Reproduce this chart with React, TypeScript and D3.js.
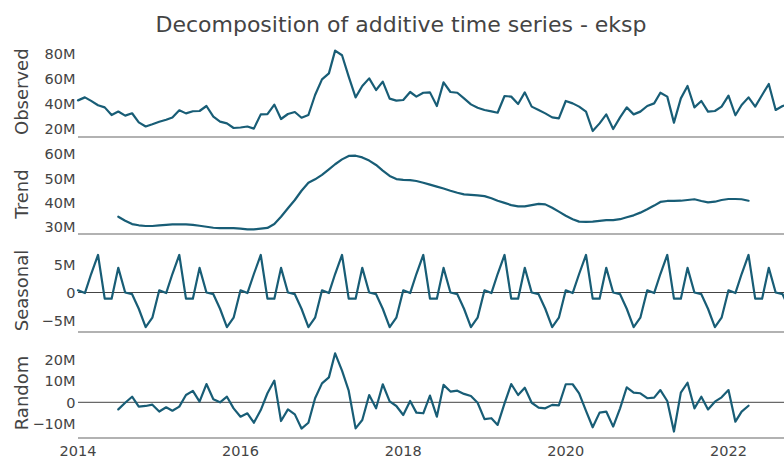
import React from "react";
import * as d3 from "d3";

// Monthly values in millions, Jan 2014 .. Oct 2022
const observed: number[] = [
  42.9, 45.3, 42.5, 39.0, 37.3, 31.2, 34.0, 30.7, 32.6, 25.3, 22.0, 23.8,
  25.8, 27.4, 29.2, 35.0, 32.5, 34.2, 34.4, 38.4, 29.9, 25.9, 24.5, 20.8,
  21.2, 22.0, 20.3, 31.7, 31.9, 39.5, 28.0, 32.0, 33.6, 29.0, 31.2, 47.2,
  59.7, 64.5, 82.7, 79.0, 61.9, 45.3, 54.4, 60.5, 51.2, 57.9, 44.3, 42.7,
  43.2, 49.6, 45.9, 49.0, 49.3, 38.4, 57.3, 49.6, 49.0, 44.5, 39.7, 37.0,
  35.2, 34.1, 33.0, 46.4, 45.9, 40.0, 49.3, 37.9, 35.2, 32.5, 29.3, 28.5,
  42.4, 40.5, 37.9, 33.9, 18.4, 24.5, 31.7, 20.0, 29.3, 37.3, 31.7, 33.9,
  38.4, 40.5, 49.0, 45.9, 25.1, 44.5, 54.4, 37.3, 42.4, 33.9, 34.4, 37.9,
  46.7, 31.0, 39.2, 45.3, 37.9, 47.2, 56.0, 35.2, 38.4, 40.0,
];

const trend: (number | null)[] = [
  null, null, null, null, null, null,
  34.2, 32.6, 31.2, 30.7, 30.4, 30.4,
  30.7, 30.9, 31.1, 31.1, 31.1, 30.9, 30.5, 30.1, 29.7, 29.5, 29.5, 29.5,
  29.3, 29.0, 29.0, 29.3, 29.6, 31.2, 34.2, 37.7, 41.1, 44.9, 48.2, 49.6,
  51.4, 53.7, 55.8, 57.8, 59.2, 59.3, 58.6, 57.3, 55.5, 53.2, 51.0, 49.7,
  49.4, 49.3, 48.9, 48.2, 47.4, 46.6, 45.8, 44.9, 44.1, 43.4, 43.2, 43.0,
  42.7, 41.8, 40.8, 39.9, 39.0, 38.5, 38.5, 39.0, 39.5, 39.3, 37.9, 36.3,
  34.6, 33.2, 32.2, 32.1, 32.2, 32.5, 32.8, 32.8, 33.2, 34.0, 34.8, 35.9,
  37.3, 38.8, 40.3, 40.7, 40.7, 40.8, 41.1, 41.4, 40.7, 40.1, 40.4, 41.1,
  41.5, 41.5, 41.4, 40.8,
  null, null, null, null, null, null,
];

// Seasonal component: one value per calendar month (Jan..Dec)
const seasonalPattern: number[] = [0.4, -0.1, 3.3, 6.7, -1.1, -1.1, 4.4, 0.0, -0.3, -2.9, -6.2, -4.5];

const random: (number | null)[] = [
  null, null, null, null, null, null,
  -3.3, -0.2, 2.6, -2.0, -1.7, -1.1,
  -4.3, -2.3, -3.9, -2.0, 3.4, 5.3, 0.3, 8.5, 1.4, 0.0, 2.6, -2.8,
  -6.7, -5.1, -9.5, -3.6, 4.2, 10.1, -8.7, -3.3, -5.6, -12.2, -9.5, 1.9,
  8.8, 11.6, 22.8, 14.7, 5.4, -12.1, -8.2, 3.4, -2.8, 8.4, 0.4, -1.7,
  -5.9, 0.6, -4.8, -5.1, 3.1, -6.7, 8.1, 5.0, 5.4, 3.9, 2.9, -0.2,
  -7.8, -7.4, -10.5, -0.5, 8.5, 3.4, 6.8, -0.2, -2.5, -2.8, -1.2, -1.4,
  8.4, 8.4, 4.2, -4.0, -11.6, -4.8, -4.3, -11.3, -2.8, 7.0, 4.5, 4.2,
  1.9, 2.2, 5.7, 0.6, -13.6, 4.5, 9.1, -2.8, 2.6, -3.3, 0.3, 2.3,
  5.7, -9.0, -4.3, -1.6,
  null, null, null, null, null, null,
];

const panelLabels = ["Observed", "Trend", "Seasonal", "Random"];
const observedTicks = [20, 40, 60, 80];
const trendTicks = [30, 40, 50, 60];
const seasonalTicks = [-5, 0, 5];
const randomTicks = [-10, 0, 10, 20];
const xTickYears = [2014, 2016, 2018, 2020, 2022];
const titleText = "Decomposition of additive time series - eksp";

const W = 784;
const H = 459;
const LINE = "#185d76";
const TEXT = "#444";
const FONT = "'DejaVu Sans', Verdana, sans-serif";

function fmt(v: number) {
  if (v === 0) return "0";
  return (v < 0 ? "\u2212" + Math.abs(v) : String(v)) + "M";
}

export default function App() {
  const dates = observed.map((_, i) => new Date(2014, i, 1));
  const seasonal = dates.map((d) => seasonalPattern[d.getMonth()]);

  const x = d3
    .scaleTime()
    .domain([new Date(2014, 0, 1), new Date(2024, 0, 1)])
    .range([78, 78 + 813]);

  const panels = [
    { label: panelLabels[0], data: observed as (number | null)[], domain: [13.6, 89.6], range: [137, 42], ticks: observedTicks, zero: false, labelY: 91.7 },
    { label: panelLabels[1], data: trend, domain: [27.12, 65.35], range: [234, 141], ticks: trendTicks, zero: false, labelY: 194 },
    { label: panelLabels[2], data: seasonal as (number | null)[], domain: [-7.05, 9.73], range: [332, 238], ticks: seasonalTicks, zero: true, labelY: 290.5 },
    { label: panelLabels[3], data: random, domain: [-16.6, 28.05], range: [438, 342], ticks: randomTicks, zero: true, labelY: 393 },
  ];

  return (
    <svg
      width={W}
      height={H}
      style={{ position: "absolute", left: 0, top: 0, background: "#fff" }}
      fontFamily={FONT}
    >
      <text x={401} y={31.5} textAnchor="middle" fontSize={22} fill={TEXT}>
        {titleText}
      </text>
      {panels.map((p) => {
        const y = d3.scaleLinear().domain(p.domain).range(p.range);
        const line = d3
          .line<number | null>()
          .defined((d) => d !== null)
          .x((_, i) => x(dates[i]))
          .y((d) => y(d as number));
        const bottom = p.range[0];
        return (
          <g key={p.label}>
            {p.zero && (
              <line x1={78} x2={W} y1={y(0)} y2={y(0)} stroke="#444" strokeWidth={1} />
            )}
            <line x1={78} x2={W} y1={bottom} y2={bottom} stroke="#999" strokeWidth={1.6} />
            {p.ticks.map((t) => (
              <text
                key={t}
                x={75.5}
                y={y(t)}
                dy="0.36em"
                textAnchor="end"
                fontSize={14.5}
                fill={TEXT}
              >
                {fmt(t)}
              </text>
            ))}
            <text
              transform={`translate(28,${p.labelY}) rotate(-90)`}
              textAnchor="middle"
              fontSize={18}
              fill={TEXT}
            >
              {p.label}
            </text>
            <path
              d={line(p.data) || ""}
              fill="none"
              stroke={LINE}
              strokeWidth={2.2}
              strokeLinejoin="round"
              strokeLinecap="round"
            />
          </g>
        );
      })}
      {xTickYears.map((yr) => (
        <text
          key={yr}
          x={x(new Date(yr, 0, 1))}
          y={456}
          textAnchor="middle"
          fontSize={14.5}
          fill={TEXT}
        >
          {yr}
        </text>
      ))}
    </svg>
  );
}
